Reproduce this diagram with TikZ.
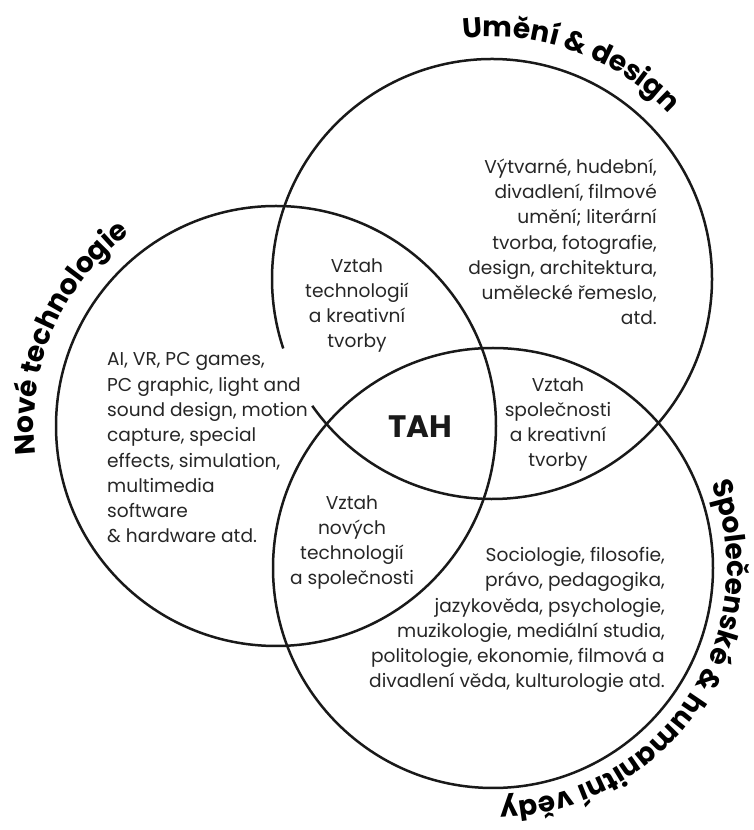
\documentclass[tikz,border=0pt]{standalone}
\usepackage{fontspec}
\setmainfont{Poppins}
\usetikzlibrary{decorations.text}

\newcommand{\titlefont}{\fontsize{28}{32}\selectfont\bfseries}

\begin{document}
\begin{tikzpicture}[x=1pt, y=1pt,
        ring/.style={line width=2.5pt, draw=black!90},
        body/.style={font=\fontsize{18.6}{25.3}\selectfont, text=black!85, inner sep=0pt},
        title/.style={decorate, decoration={text along path, text align=center, text={#1}}}
    ]
    \useasboundingbox (0,0) rectangle (754,830);

    % Circle centres
    \coordinate (art) at (492,551);
    \coordinate (tech) at (276,404);
    \coordinate (soc) at (493,262);

    % Circles (the art one leaves room for the tech text)
    \draw[ring] (tech) circle[radius=220];
    \draw[ring] (soc) circle[radius=220];
    \draw[ring] (art) ++(215.2:220) arc[start angle=215.2, end angle=558.4, radius=220];

    % Circle titles
    \path[title={|\titlefont|Umění {\&} design}] (art) ++(150:242) arc[start angle=150, end angle=-10, radius=242];
    \path[title={|\titlefont|Nové technologie}] (tech) ++(237:242) arc[start angle=237, end angle=77, radius=242];
    \path[title={|\titlefont|Společenské {\&} humanitní vědy}] (soc) ++(56.5:234) arc[start angle=56.5, end angle=-123.5, radius=234];

    % Fields (anchored at the last line)
    \node[body, align=right, anchor=base east] (arttext) at (657,505)
        {Výtvarné, hudební,\\divadlení, filmové\\umění; literární\\tvorba, fotografie,\\design, architektura,\\umělecké řemeslo,\\atd.};
    \node[body, align=left, anchor=base west] (techtext) at (107,287)
        {AI, VR, PC games,\\PC graphic, light and\\sound design, motion\\capture, special\\effects, simulation,\\multimedia\\software\\\& hardware atd.};
    \node[body, align=right, anchor=base east] (soctext) at (665,142)
        {Sociologie, filosofie,\\právo, pedagogika,\\jazykověda, psychologie,\\muzikologie, mediální studia,\\politologie, ekonomie, filmová a\\divadlení věda, kulturologie atd.};

    % Overlaps
    \node[body, align=center, anchor=base] (techart) at (357,482)
        {Vztah\\technologií\\a kreativní\\tvorby};
    \node[body, align=center, anchor=base] (socart) at (558,363)
        {Vztah\\společnosti\\a kreativní\\tvorby};
    \node[body, align=center, anchor=base] (techsoc) at (352,245)
        {Vztah\\nových\\technologií\\a společnosti};
    \node[font=\fontsize{31}{36}\selectfont\bfseries, text=black!90, anchor=base] (tah) at (420,392) {TAH};
\end{tikzpicture}
\end{document}
